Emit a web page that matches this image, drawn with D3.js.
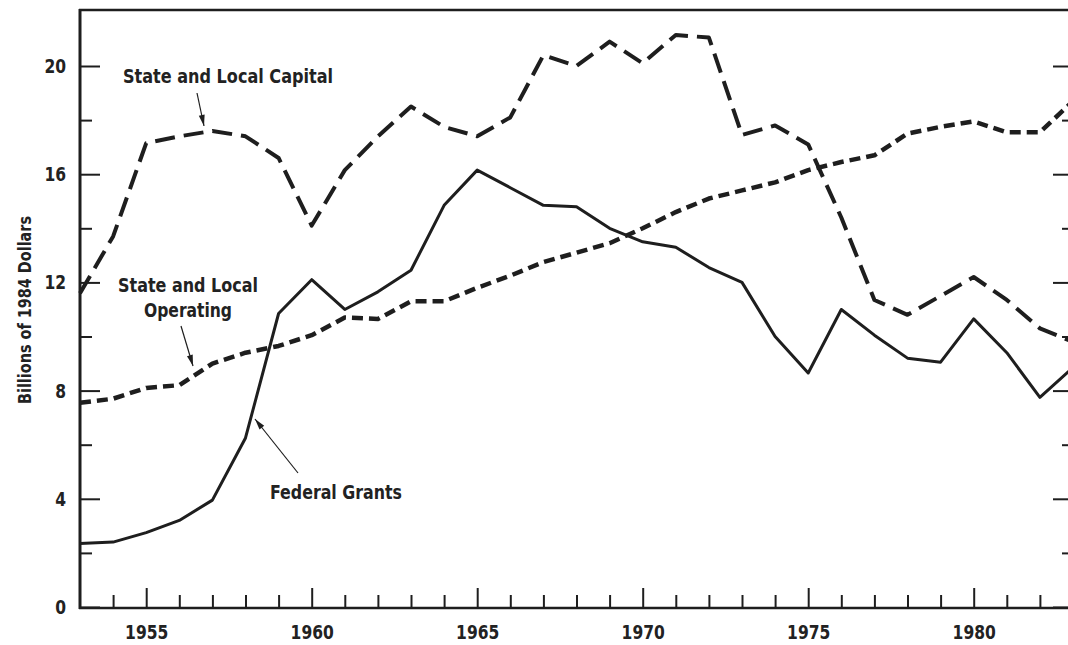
<!DOCTYPE html>
<html>
<head>
<meta charset="utf-8">
<script src="https://cdn.jsdelivr.net/npm/d3@7"></script>
<style>
  html, body { margin: 0; padding: 0; background: #fff; }
  svg { display: block; }
  text { font-family: "Liberation Sans Narrow", "DejaVu Sans Condensed", "Roboto Condensed", "Arial Narrow", sans-serif; font-weight: bold; fill: #222; }
</style>
</head>
<body>
<svg id="chart" width="1068" height="645"></svg>
<script>
// ---- data ----
const years = d3.range(1953, 1984);
const capital = [11.6, 13.7, 17.15, 17.4, 17.6, 17.4, 16.6, 14.1, 16.15, 17.4, 18.5, 17.75, 17.4, 18.1, 20.4, 20.0, 20.9, 20.1, 21.15, 21.05, 17.45, 17.8, 17.1, 14.4, 11.35, 10.8, 11.5, 12.2, 11.35, 10.3, 9.8];
const operating = [7.55, 7.7, 8.1, 8.2, 9.0, 9.4, 9.65, 10.05, 10.7, 10.65, 11.3, 11.3, 11.8, 12.25, 12.75, 13.1, 13.45, 14.0, 14.6, 15.1, 15.4, 15.7, 16.15, 16.45, 16.7, 17.5, 17.75, 17.95, 17.55, 17.55, 18.7];
const federal = [2.35, 2.4, 2.75, 3.2, 3.95, 6.25, 10.85, 12.1, 11.0, 11.65, 12.45, 14.85, 16.15, 15.5, 14.85, 14.8, 14.0, 13.5, 13.3, 12.55, 12.0, 10.0, 8.65, 11.0, 10.05, 9.2, 9.05, 10.65, 9.4, 7.75, 8.85];
const yMajorTicks = [0, 4, 8, 12, 16, 20];
const yMinorTicks = [2, 6, 10, 14, 18];
const xMajorTicks = [1955, 1960, 1965, 1970, 1975, 1980];
const xMinorTicks = years.filter(y => y % 5 !== 0 && y > 1953 && y < 1983);
const yAxisTitle = "Billions of 1984 Dollars";

(function () {
// ---- layout ----
const svg = d3.select("#chart");
const ink = "#1e1e1e";
const pLeft = 80, pBottom = 608, pTop = 10;
const x = d3.scaleLinear().domain([1953, 1983]).range([pLeft, 1073]);
const y = d3.scaleLinear().domain([0, 20]).range([607, 66]);

// lines
const line = d3.line().x((d, i) => x(years[i])).y(d => y(d));
svg.append("path").datum(capital).attr("d", line)
  .attr("fill", "none").attr("stroke", ink).attr("stroke-width", 4)
  .attr("stroke-dasharray", "20,9").attr("stroke-linejoin", "round");
svg.append("path").datum(operating).attr("d", line)
  .attr("fill", "none").attr("stroke", ink).attr("stroke-width", 4.5)
  .attr("stroke-dasharray", "11,6").attr("stroke-linejoin", "round");
svg.append("path").datum(federal).attr("d", line)
  .attr("fill", "none").attr("stroke", ink).attr("stroke-width", 3)
  .attr("stroke-linejoin", "round");

// axes
function styleAxis(g) {
  g.select(".domain").remove();
  g.selectAll(".tick line").attr("stroke", ink).attr("stroke-width", 2);
  g.selectAll(".tick text").attr("font-size", 20).attr("fill", ink)
    .attr("textLength", d => String(d).length * 10.8).attr("lengthAdjust", "spacingAndGlyphs");
}
svg.append("g").attr("transform", `translate(${pLeft},0)`)
  .call(d3.axisLeft(y).tickValues(yMajorTicks).tickSize(-20).tickPadding(14).tickFormat(d3.format("d")))
  .call(styleAxis);
svg.append("g").attr("transform", `translate(${pLeft},0)`)
  .call(d3.axisLeft(y).tickValues(yMinorTicks).tickSize(-12).tickFormat(""))
  .call(styleAxis);
svg.append("g").attr("transform", `translate(${x(1983)},0)`)
  .call(d3.axisRight(y).tickValues(yMajorTicks).tickSize(-20).tickFormat(""))
  .call(styleAxis);
svg.append("g").attr("transform", `translate(${x(1983)},0)`)
  .call(d3.axisRight(y).tickValues(yMinorTicks).tickSize(-11).tickFormat(""))
  .call(styleAxis);
svg.append("g").attr("transform", `translate(0,${pBottom})`)
  .call(d3.axisBottom(x).tickValues(xMajorTicks).tickSize(-20).tickPadding(17).tickFormat(d3.format("d")))
  .call(styleAxis);
svg.append("g").attr("transform", `translate(0,${pBottom})`)
  .call(d3.axisBottom(x).tickValues(xMinorTicks).tickSize(-13).tickFormat(""))
  .call(styleAxis);

// frame
svg.append("line").attr("x1", pLeft).attr("x2", pLeft).attr("y1", pTop - 1).attr("y2", pBottom + 1)
  .attr("stroke", ink).attr("stroke-width", 3);
svg.append("line").attr("x1", pLeft - 1).attr("x2", x(1983)).attr("y1", pBottom).attr("y2", pBottom)
  .attr("stroke", ink).attr("stroke-width", 2.5);
svg.append("line").attr("x1", pLeft - 1).attr("x2", x(1983)).attr("y1", pTop).attr("y2", pTop)
  .attr("stroke", ink).attr("stroke-width", 2.5);
svg.append("line").attr("x1", x(1983)).attr("x2", x(1983)).attr("y1", pTop).attr("y2", pBottom)
  .attr("stroke", ink).attr("stroke-width", 3);

// y axis title
svg.append("text").attr("transform", "translate(31,310) rotate(-90)")
  .attr("text-anchor", "middle").attr("font-size", 17)
  .attr("textLength", 188).attr("lengthAdjust", "spacingAndGlyphs")
  .text(yAxisTitle);

// annotations
function label(txt, cx, baseline, w) {
  svg.append("text").attr("x", cx).attr("y", baseline).attr("text-anchor", "middle")
    .attr("font-size", 20).attr("textLength", w).attr("lengthAdjust", "spacingAndGlyphs").text(txt);
}
function arrow(x1, y1, x2, y2) {
  svg.append("line").attr("x1", x1).attr("y1", y1).attr("x2", x2).attr("y2", y2)
    .attr("stroke", ink).attr("stroke-width", 1.2);
  const a = Math.atan2(y2 - y1, x2 - x1), L = 11, W = 3;
  const bx = x2 - L * Math.cos(a), by = y2 - L * Math.sin(a);
  const px = -Math.sin(a) * W, py = Math.cos(a) * W;
  svg.append("path").attr("d", `M${x2},${y2}L${bx + px},${by + py}L${bx - px},${by - py}Z`).attr("fill", ink);
}
label("State and Local Capital", 228, 83, 210);
arrow(197, 93, 204, 126);
label("State and Local", 188, 292, 140);
label("Operating", 188, 317, 88);
arrow(181, 326, 193, 366);
label("Federal Grants", 336, 499, 132);
arrow(298, 473, 255, 419);
})();
</script>
</body>
</html>
